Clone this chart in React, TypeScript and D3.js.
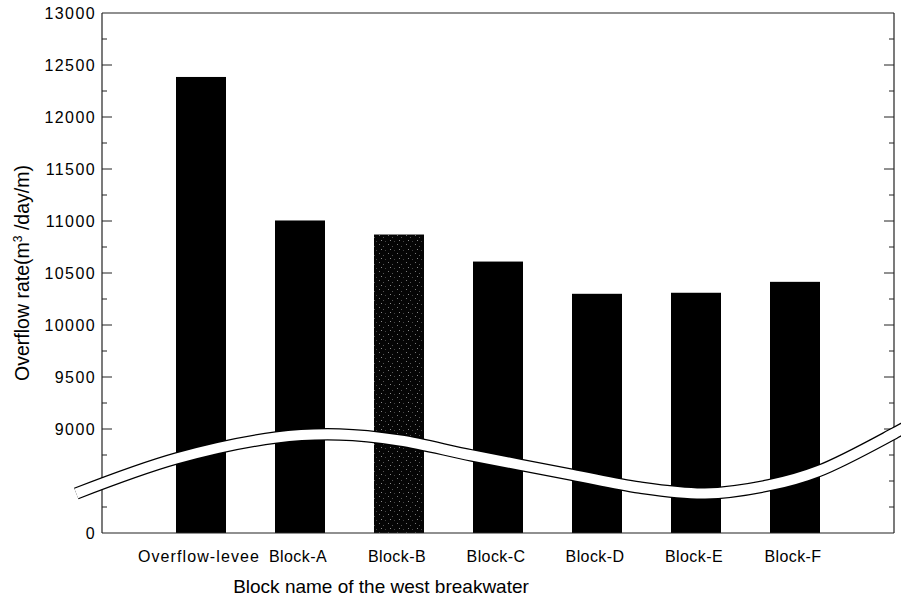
import React from "react";
import * as d3 from "d3";

const categories = ["Overflow-levee", "Block-A", "Block-B", "Block-C", "Block-D", "Block-E", "Block-F"];
const overflowRates = [12385, 11005, 10870, 10610, 10300, 10310, 10415];
const patterned = [false, false, true, false, false, false, false];
const yTickValues = [13000, 12500, 12000, 11500, 11000, 10500, 10000, 9500, 9000, 8000];
const yTickLabels = ["13000", "12500", "12000", "11500", "11000", "10500", "10000", "9500", "9000", "0"];
const yMinorValues = [12750, 12250, 11750, 11250, 10750, 10250, 9750, 9250, 8750, 8500, 8250];
// axis-break wave, in (category position, value) units
const waveX = [-0.26, 0.75, 1.76, 2.4, 3.01, 3.74, 4.74, 5.43, 6.09, 6.73, 7.24, 8, 8.3];
const waveV = [8380, 8716, 8918, 8947, 8889, 8745, 8562, 8437, 8380, 8457, 8596, 8957, 9120];

const W = 901, H = 599;
const M = { left: 102, right: 7, top: 13, bottom: 66 };
const FONT = "'Liberation Sans', Arial, Helvetica, sans-serif";

export default function App() {
  const x = d3.scalePoint<string>().domain(categories).range([M.left, W - M.right]).padding(1);
  const xLin = d3.scaleLinear().domain([0, categories.length + 1]).range([M.left, W - M.right]);
  const y = d3.scaleLinear().domain([8000, 13000]).range([H - M.bottom, M.top]);
  const barW = x.step() * 0.505;
  const x0 = M.left, x1 = W - M.right, y0 = y(8000), y1 = y(13000);

  const wavePts: [number, number][] = waveX.map((v, i) => [xLin(v), y(waveV[i])]);
  const wavePath = d3.line().curve(d3.curveCatmullRom.alpha(0.5))(wavePts) || "";

  const axisColor = "#222";

  return (
    <svg width={W} height={H} style={{ position: "absolute", left: 0, top: 0, background: "#fff" }} fontFamily={FONT}>
      <defs>
        <pattern id="speckle" width="9" height="9" patternUnits="userSpaceOnUse">
          <rect width="9" height="9" fill="#050505" />
          <rect x="1" y="1" width="1" height="1" fill="#777" />
          <rect x="5" y="3" width="1" height="1" fill="#555" />
          <rect x="3" y="6" width="1" height="1" fill="#888" />
          <rect x="7" y="7" width="1" height="1" fill="#444" />
        </pattern>
      </defs>
      <rect x={0} y={0} width={W} height={H} fill="#fff" />

      {/* bars */}
      {categories.map((c, i) => (
        <rect
          key={c}
          x={(x(c) as number) - barW / 2}
          y={y(overflowRates[i])}
          width={barW}
          height={y0 - y(overflowRates[i])}
          fill={patterned[i] ? "url(#speckle)" : "#000"}
        />
      ))}

      {/* frame */}
      <line x1={x0} x2={x1} y1={y1} y2={y1} stroke={axisColor} strokeWidth={1.2} />
      <line x1={x0} x2={x1} y1={y0} y2={y0} stroke={axisColor} strokeWidth={1.2} />
      <line x1={x0} x2={x0} y1={y0} y2={y1} stroke={axisColor} strokeWidth={1.2} />
      <line x1={x1} x2={x1} y1={y0} y2={y1} stroke={axisColor} strokeWidth={1.2} />

      {/* ticks */}
      {yTickValues.map((v) =>
        v === 8000 || v === 13000 ? null : (
          <g key={"t" + v}>
            <line x1={x0} x2={x0 + 10} y1={y(v)} y2={y(v)} stroke={axisColor} />
            <line x1={x1} x2={x1 - 10} y1={y(v)} y2={y(v)} stroke={axisColor} />
          </g>
        )
      )}
      {yMinorValues.map((v) => (
        <g key={"m" + v}>
          <line x1={x0} x2={x0 + 5} y1={y(v)} y2={y(v)} stroke={axisColor} />
          <line x1={x1} x2={x1 - 5} y1={y(v)} y2={y(v)} stroke={axisColor} />
        </g>
      ))}
      {yTickValues.map((v, i) => (
        <text
          key={"l" + v}
          x={x0 - 6}
          y={y(v)}
          dy="0.36em"
          textAnchor="end"
          fontSize={16}
          letterSpacing={1.4}
          fill="#000"
        >
          {yTickLabels[i]}
        </text>
      ))}

      {/* axis break wave */}
      <path d={wavePath} fill="none" stroke="#000" strokeWidth={12.5} strokeLinecap="butt" />
      <path d={wavePath} fill="none" stroke="#fff" strokeWidth={10} strokeLinecap="butt" />

      {/* category labels */}
      {categories.map((c) => (
        <text
          key={"c" + c}
          x={(x(c) as number) - 2}
          y={y0 + 29}
          textAnchor="middle"
          fontSize={16}
          letterSpacing={c.length > 10 ? 1.1 : 0.4}
          fill="#000"
        >
          {c}
        </text>
      ))}

      {/* axis titles */}
      <text x={(x0 + x1) / 2 - 117} y={593} textAnchor="middle" fontSize={19} fill="#000">
        Block name of the west breakwater
      </text>
      <text
        transform={`translate(29, ${(y0 + y1) / 2}) rotate(-90)`}
        textAnchor="middle"
        fontSize={19.5}
        fill="#000"
      >
        Overflow rate(m
        <tspan fontSize={12} dy={-7}>3</tspan>
        <tspan dy={7}> /day/m)</tspan>
      </text>
    </svg>
  );
}
